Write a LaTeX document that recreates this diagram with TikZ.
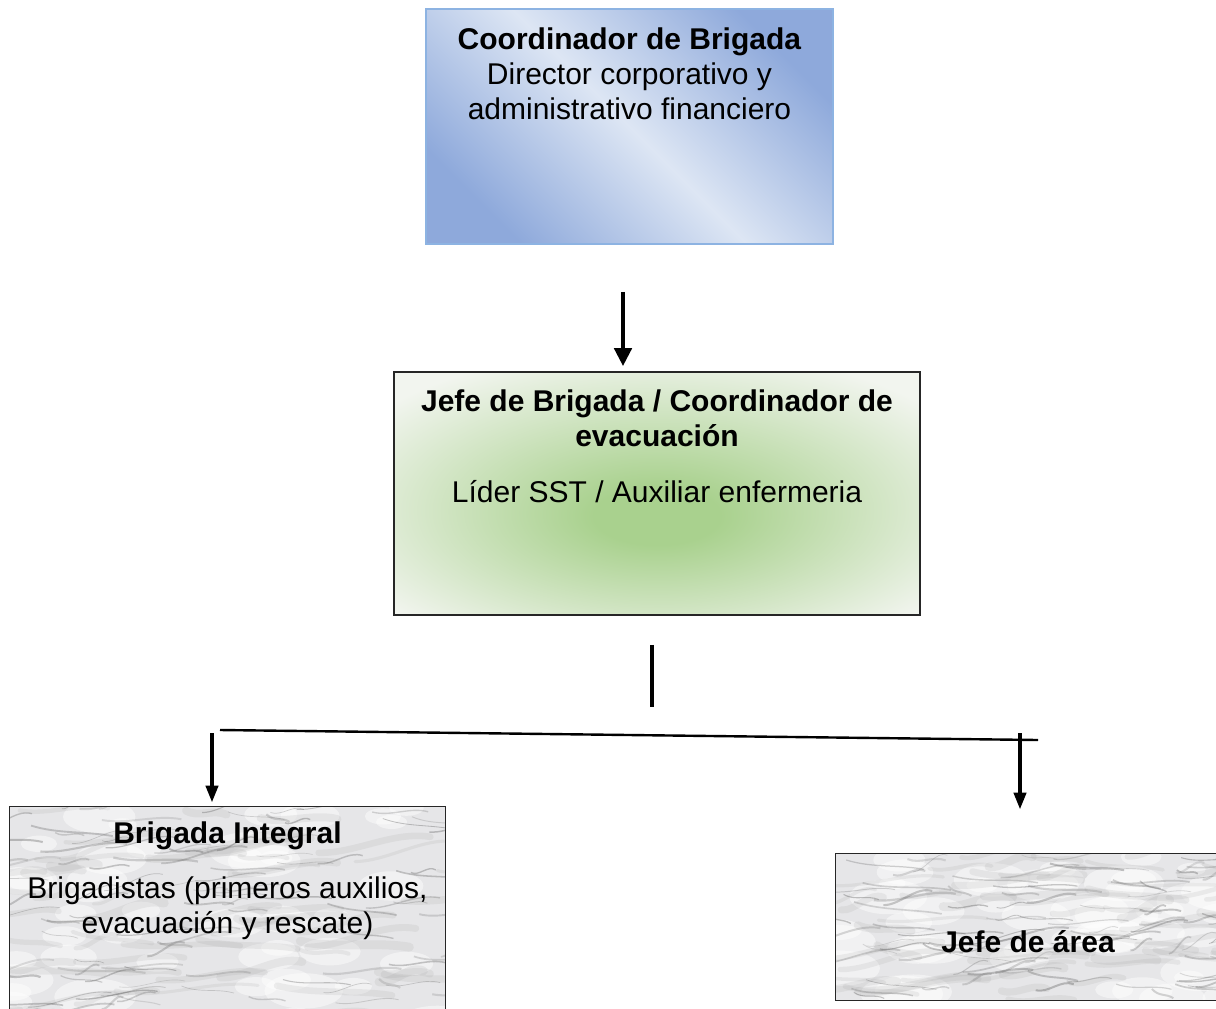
\documentclass[tikz,border=0pt]{standalone}
\usepackage{fontspec}
\setmainfont{Liberation Sans}
\usepackage{xcolor}
\usepackage{tikz}
\usetikzlibrary{arrows.meta, positioning, calc}
\definecolor{blueedge}{HTML}{8DB3E2}
\definecolor{bluedeep}{HTML}{8EA9DB}
\definecolor{bluepale}{HTML}{DDE6F4}
\definecolor{greencore}{HTML}{A9D18E}
\definecolor{greenrim}{HTML}{F2F5EF}
\definecolor{marblebase}{HTML}{E6E6E8}
\pgfdeclareradialshading{greenglow}{\pgfpoint{0bp}{-5bp}}{color(0bp)=(greencore); color(6bp)=(greencore); color(33bp)=(greenrim); color(72bp)=(greenrim)}

% marble look for the lower boxes: node, width (px), height (px)
\newcommand{\marblefill}[3]{%
  \begin{scope}
    \clip (#1.south west) rectangle (#1.north east);
    \fill[marblebase] (#1.south west) rectangle (#1.north east);
    \begin{scope}[shift={(#1.north west)}]
      \foreach \k in {1,...,45}{%
        \pgfmathsetmacro{\bx}{rnd*#2}%
        \pgfmathsetmacro{\by}{rnd*#3}%
        \pgfmathsetmacro{\br}{12+rnd*30}%
        \fill[white, opacity=0.45] (\bx,\by) ellipse [x radius=\br, y radius=0.45*\br];
      }
      \foreach \k in {1,...,60}{%
        \pgfmathsetmacro{\vx}{-40+rnd*(#2+40)}%
        \pgfmathsetmacro{\vy}{rnd*#3}%
        \pgfmathsetmacro{\vl}{40+rnd*90}%
        \pgfmathsetmacro{\vd}{-20+rnd*32}%
        \pgfmathsetmacro{\vw}{1.5+rnd*3}%
        \draw[black!45, opacity=0.12, line width=\vw pt, line cap=round] (\vx,\vy) .. controls +(\vl/3,\vd/3+6) and +(-\vl/3,-6) .. +(\vl,\vd);
      }
      \foreach \k in {1,...,110}{%
        \pgfmathsetmacro{\vx}{-40+rnd*(#2+40)}%
        \pgfmathsetmacro{\vy}{rnd*#3}%
        \pgfmathsetmacro{\vl}{20+rnd*70}%
        \pgfmathsetmacro{\vd}{-18+rnd*30}%
        \pgfmathsetmacro{\vw}{0.3+rnd*0.8}%
        \pgfmathtruncatemacro{\vg}{40+rnd*35}%
        \draw[black!\vg, opacity=0.3, line width=\vw pt] (\vx,\vy) .. controls +(\vl/3,\vd/3+5) and +(-\vl/3,-5) .. +(\vl,\vd);
      }
    \end{scope}
  \end{scope}
  \draw[black!85, line width=0.8pt] (#1.south west) rectangle (#1.north east);}

\begin{document}
\begin{tikzpicture}[x=0.5pt, y=-0.5pt,
  orgbox/.style={rectangle, inner sep=0pt},
  head/.style={font=\bfseries\fontsize{15}{17.5}\selectfont, align=center, inner sep=0pt},
  body/.style={font=\fontsize{15}{17.5}\selectfont, align=center, inner sep=0pt},
  link/.style={line width=2.2pt, -{Triangle[length=9pt, width=8.5pt]}},
  sublink/.style={line width=2pt, -{Triangle[length=8.5pt, width=6pt]}},
  stem/.style={line width=1.8pt},
  bus/.style={line width=1.2pt}
]
  \path[use as bounding box, fill=white] (0,0) rectangle (1216,1008);
  \pgfmathsetseed{11}

  % boxes
  \node[orgbox, draw=blueedge, line width=0.8pt, minimum width=203.5pt, minimum height=117.5pt,
        top color=bluedeep, bottom color=bluedeep, middle color=bluepale, shading angle=-45] (coord) at (629.5,126.5) {};
  \node[body] at ([yshift=-33pt]coord.north) {\textbf{Coordinador de Brigada}\\Director corporativo y\\administrativo financiero};

  \node[orgbox, draw=black!85, line width=0.8pt, minimum width=263pt, minimum height=121.5pt, shading=greenglow] (jefe) at (657,493.5) {};
  \node[head] at ([yshift=-23.75pt]jefe.north) {Jefe de Brigada / Coordinador de\\evacuación};
  \node[body] at ([yshift=-60pt]jefe.north) {Líder SST / Auxiliar enfermeria};

  \node[orgbox, minimum width=217.5pt, minimum height=111.5pt] (integral) at (227.5,918.5) {};
  \marblefill{integral}{435}{223}
  \node[head] at ([yshift=-14.5pt]integral.north) {Brigada Integral};
  \node[body] at ([yshift=-51pt]integral.north) {Brigadistas (primeros auxilios,\\evacuación y rescate)};

  \node[orgbox, minimum width=202pt, minimum height=73pt] (area) at (1038,927) {};
  \marblefill{area}{404}{146}
  \node[head] at ([xshift=-5pt, yshift=-7.5pt]area.center) {Jefe de área};

  % connectors
  \draw[link, shorten <=23.5pt, shorten >=2.5pt] ([xshift=-3.25pt]coord.south) -- ([xshift=-3.25pt]coord.south |- jefe.north);

  \coordinate (stemend) at (652,707);
  \coordinate (busW) at (220,730);
  \coordinate (busE) at (1038,740);
  \coordinate (dropL) at (212,733);
  \coordinate (dropR) at (1020,733);
  \draw[stem, shorten <=14.5pt] ([xshift=-2.5pt]jefe.south) -- (stemend);
  \draw[bus] (busW) -- (busE);
  \draw[sublink, shorten >=2pt] (dropL) -- (dropL |- integral.north);
  \draw[sublink, shorten >=22pt] (dropR) -- (dropR |- area.north);
\end{tikzpicture}
\end{document}
